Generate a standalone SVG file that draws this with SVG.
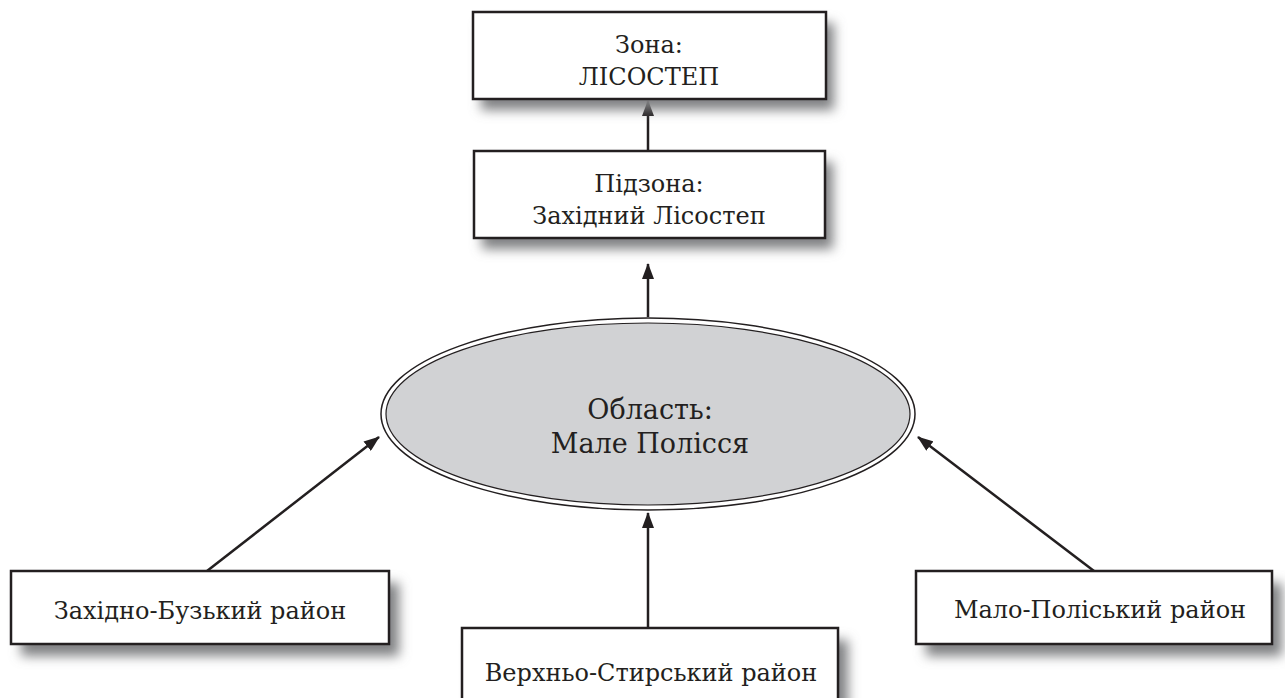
<svg xmlns="http://www.w3.org/2000/svg" width="1285" height="698" viewBox="0 0 1285 698">
<style>
.box{fill:#fff;stroke:#231f20;stroke-width:2.5}
.sh{fill:#808183;filter:url(#blur)}
.t{font-family:"DejaVu Serif","Liberation Serif",serif;font-size:24px;fill:#231f20;text-anchor:middle}
.te{font-family:"DejaVu Serif","Liberation Serif",serif;font-size:27px;fill:#231f20;text-anchor:middle}
.c{stroke:#231f20;stroke-width:2.5;fill:none;marker-end:url(#ah)}
</style>
<defs>
<filter id="blur" x="-20%" y="-50%" width="140%" height="200%"><feGaussianBlur stdDeviation="6"/></filter>
<marker id="ah" viewBox="0 0 16 12" refX="15" refY="6" markerWidth="16" markerHeight="12" markerUnits="userSpaceOnUse" orient="auto"><path d="M0,0 L16,6 L0,12 Z" fill="#231f20"/></marker>
</defs>
<g id="connectors">
<line class="c" x1="648" y1="151" x2="648" y2="101"/>
<line class="c" x1="648" y1="317" x2="648" y2="264"/>
<line class="c" x1="207" y1="571" x2="379" y2="437"/>
<line class="c" x1="648" y1="628" x2="648" y2="513"/>
<line class="c" x1="1094" y1="571" x2="918" y2="437"/>
</g>
<g id="zone">
<rect class="sh" x="481" y="23" width="353" height="87"/>
<rect class="box" x="473" y="12" width="353" height="87"/>
<text class="t" x="649" y="53">Зона:</text>
<text class="t" x="649" y="85">ЛІСОСТЕП</text>
</g>
<g id="subzone">
<rect class="sh" x="482" y="162" width="351" height="87"/>
<rect class="box" x="474" y="151" width="351" height="87"/>
<text class="t" x="649" y="192">Підзона:</text>
<text class="t" x="649" y="224">Західний Лісостеп</text>
</g>
<g id="oblast">
<ellipse cx="648" cy="414" rx="267" ry="96" fill="#fff" stroke="#231f20" stroke-width="1.5"/>
<ellipse cx="648" cy="414" rx="262" ry="91" fill="#d1d2d4" stroke="#231f20" stroke-width="1.2"/>
<text class="te" x="650" y="419">Область:</text>
<text class="te" x="650" y="453">Мале Полісся</text>
</g>
<g id="zakhidno-buzkyi">
<rect class="sh" x="21" y="583" width="378" height="73"/>
<rect class="box" x="11" y="571" width="378" height="73"/>
<text class="t" x="200" y="619">Західно-Бузький район</text>
</g>
<g id="verkhno-styrskyi">
<rect class="sh" x="472" y="640" width="376" height="80"/>
<rect class="box" x="462" y="628" width="376" height="80"/>
<text class="t" x="651" y="681">Верхньо-Стирський район</text>
</g>
<g id="malo-poliskyi">
<rect class="sh" x="926" y="583" width="356" height="73"/>
<rect class="box" x="916" y="571" width="356" height="73"/>
<text class="t" x="1100" y="618">Мало-Поліський район</text>
</g>
</svg>
